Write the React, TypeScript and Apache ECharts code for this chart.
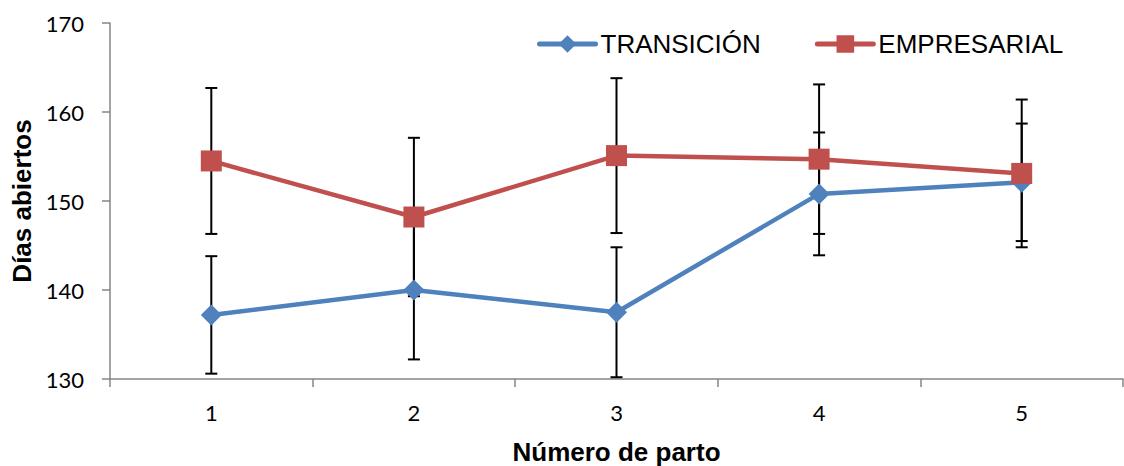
import React, { useEffect, useRef } from "react";
import * as echarts from "echarts";

const categories = ["1", "2", "3", "4", "5"];
const transicionMean = [137.2, 140.0, 137.5, 150.8, 152.1];
const transicionErr = [6.6, 7.8, 7.3, 6.9, 6.6];
const empresarialMean = [154.5, 148.2, 155.1, 154.7, 153.1];
const empresarialErr = [8.2, 8.9, 8.7, 8.4, 8.3];

const BLUE = "#4F81BD";
const RED = "#C0504D";
const ARIAL = "'Liberation Sans', Arial, sans-serif";
const CALIBRI = "Lato, Carlito, Calibri, sans-serif";

function errorSeries(name: string, means: number[], errs: number[]) {
  return {
    name: name + "_err",
    type: "custom",
    z: 1,
    silent: true,
    data: means.map((m, i) => [i, m - errs[i], m + errs[i]]),
    renderItem: (params: any, api: any) => {
      const i = api.value(0);
      const lo = api.coord([i, api.value(1)]);
      const hi = api.coord([i, api.value(2)]);
      const hw = 6;
      const style = { stroke: "#000", lineWidth: 2 };
      return {
        type: "group",
        children: [
          { type: "line", shape: { x1: lo[0], y1: lo[1], x2: hi[0], y2: hi[1] }, style },
          { type: "line", shape: { x1: lo[0] - hw, y1: lo[1], x2: lo[0] + hw, y2: lo[1] }, style },
          { type: "line", shape: { x1: hi[0] - hw, y1: hi[1], x2: hi[0] + hw, y2: hi[1] }, style },
        ],
      };
    },
  };
}

export default function App() {
  const ref = useRef<HTMLDivElement>(null);
  useEffect(() => {
    if (!ref.current) return;
    const chart = echarts.init(ref.current, undefined, { renderer: "svg" });
    chart.setOption({
      animation: false,
      textStyle: { fontFamily: ARIAL },
      grid: { left: 110, right: 1, top: 23, bottom: 87, containLabel: false, outerBoundsMode: "none" },
      legend: {
        left: 537,
        top: 31,
        padding: 0,
        itemGap: 54,
        itemWidth: 56,
        itemHeight: 22,
        data: ["TRANSICIÓN", "EMPRESARIAL"],
        lineStyle: { width: 5, cap: "round" },
        textStyle: { fontSize: 26, color: "#000", fontFamily: ARIAL },
      },
      xAxis: {
        type: "category",
        data: categories,
        boundaryGap: true,
        name: "Número de parto",
        nameLocation: "middle",
        nameGap: 60,
        nameMoveOverlap: false,
        nameTextStyle: { fontSize: 26, fontWeight: "bold", color: "#000", fontFamily: ARIAL },
        axisLine: { lineStyle: { color: "#868686", width: 1.5 } },
        axisTick: { show: true, alignWithLabel: false, length: 8, lineStyle: { color: "#868686", width: 1.5 } },
        axisLabel: { fontSize: 22, color: "#000", margin: 22, fontFamily: CALIBRI },
        splitLine: { show: false },
      },
      yAxis: {
        type: "value",
        min: 130,
        max: 170,
        interval: 10,
        name: "Días abiertos",
        nameLocation: "middle",
        nameGap: 75,
        nameMoveOverlap: false,
        nameTextStyle: { fontSize: 26, fontWeight: "bold", color: "#000", fontFamily: ARIAL },
        axisLine: { show: true, lineStyle: { color: "#868686", width: 1.5 } },
        axisTick: { show: true, length: 8, lineStyle: { color: "#868686", width: 1.5 } },
        axisLabel: { fontSize: 22, color: "#000", margin: 26, fontFamily: CALIBRI },
        splitLine: { show: false },
      },
      series: [
        errorSeries("TRANSICIÓN", transicionMean, transicionErr),
        errorSeries("EMPRESARIAL", empresarialMean, empresarialErr),
        {
          name: "TRANSICIÓN",
          type: "line",
          z: 3,
          data: transicionMean,
          symbol: "diamond",
          symbolSize: 21,
          lineStyle: { color: BLUE, width: 4.5 },
          itemStyle: { color: BLUE },
        },
        {
          name: "EMPRESARIAL",
          type: "line",
          z: 4,
          data: empresarialMean,
          symbol: "rect",
          symbolSize: 21,
          lineStyle: { color: RED, width: 4.5 },
          itemStyle: { color: RED },
        },
      ],
    });
    return () => chart.dispose();
  }, []);
  return (
    <div
      ref={ref}
      style={{ position: "absolute", left: 0, top: 0, width: 1124, height: 466 }}
    />
  );
}
